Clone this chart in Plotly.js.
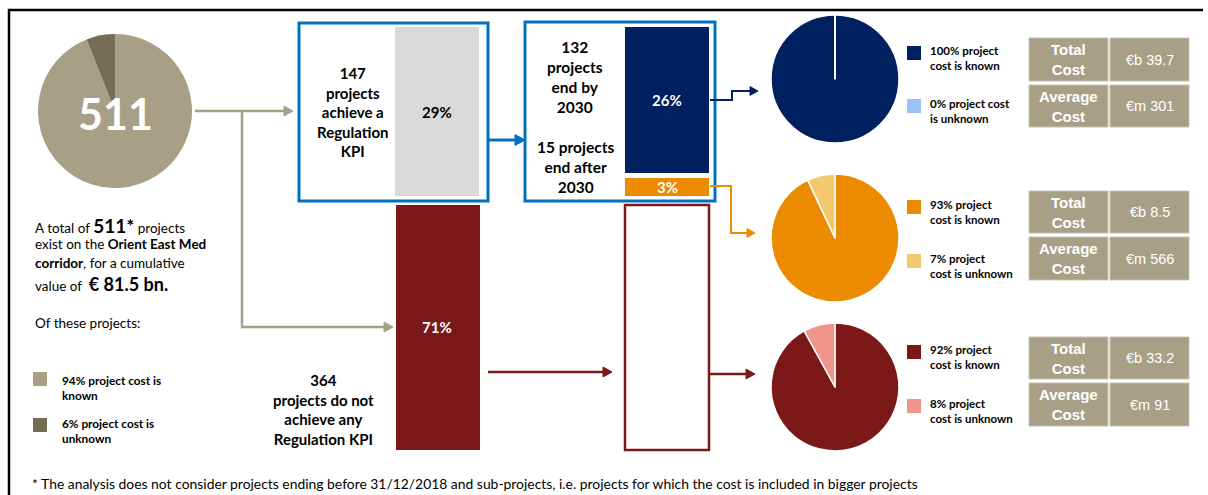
<!DOCTYPE html>
<html>
<head>
<meta charset="utf-8">
<script src="https://cdn.plot.ly/plotly-3.0.1.min.js"></script>
<style>html,body{margin:0;padding:0;background:#fff;}#chart{width:1208px;height:495px;}</style>
</head>
<body>
<div id="chart"></div>
<script>
// ---------------- DATA ----------------
const totalProjects = 511;
const totalValue = '€ 81.5 bn.';
const overallShareLabels = ['94% project cost is<br>known', '6% project cost is<br>unknown'];
const overallKnownUnknown = [94, 6];          // % known, % unknown (all 511 projects)
const kpiCounts = [147, 364];                  // achieve KPI, do not achieve
const kpiShares = [29, 71];                    // %
const endCounts = [132, 15];                   // end by 2030, end after 2030
const endShares = [26, 3];                     // %
const groupKnown = [100, 93, 92];              // % cost known per group
const groupUnknown = [0, 7, 8];                // % cost unknown per group
const groupTotalCost = ['€b 39.7', '€b 8.5', '€b 33.2'];
const groupAvgCost = ['€m 301', '€m 566', '€m 91'];
const footnote = '* The analysis does not consider projects ending before 31/12/2018 and sub-projects, i.e. projects for which the cost is included in bigger projects';

// ---------------- STYLE ----------------
const W = 1208, H = 495;
const TAN = '#A89F87', TAN_D = '#746C55';
const BLUE = '#0070C0', GRAY = '#D9D9D9', NAVY = '#002060', ORANGE = '#ED8B00';
const RED = '#7B1818';
const groupColors = [[NAVY, '#9EC1F8'], [ORANGE, '#F2C96F'], [RED, '#F0958B']];
const CAL = 'Lato, "Open Sans", sans-serif';
const ARI = '"Liberation Sans", Arial, sans-serif';

const shapes = [];
const ann = [];

function rect(x0, y0, x1, y1, fill, line, lw) {
  shapes.push({type: 'rect', xref: 'x', yref: 'y', x0, y0, x1, y1,
    fillcolor: fill || 'rgba(0,0,0,0)', line: {color: line || 'rgba(0,0,0,0)', width: lw || 0}, layer: 'below'});
}
function poly(pts, color, w) {
  const p = 'M ' + pts.map(q => q[0] + ',' + q[1]).join(' L ');
  shapes.push({type: 'path', xref: 'x', yref: 'y', path: p, line: {color, width: w}, layer: 'above'});
}
function head(x, y, color, s) {
  s = s || 9;
  const p = `M ${x - s},${y - s * 0.55} L ${x},${y} L ${x - s},${y + s * 0.55} Z`;
  shapes.push({type: 'path', xref: 'x', yref: 'y', path: p, fillcolor: color, line: {color, width: 1}, layer: 'above'});
}
function T(x, y, text, size, opts) {
  opts = opts || {};
  ann.push({xref: 'x', yref: 'y', x, y, text, showarrow: false,
    xanchor: opts.anchor || 'center', yanchor: 'middle', align: opts.align || 'center',
    font: {family: opts.family || CAL, size, color: opts.color || '#000'}});
}
function dom(cx, cy, r) {
  return {x: [(cx - r) / W, (cx + r) / W], y: [1 - (cy + r) / H, 1 - (cy - r) / H]};
}

// frame
poly([[9, 495], [9, 10], [1203, 10]], '#000', 2.5);

// ---------- main pie (known first clockwise from 12 o'clock, unknown ends at 12 o'clock) ----------
const traces = [];
traces.push({type: 'pie', values: [overallKnownUnknown[0], overallKnownUnknown[1]], sort: false,
  direction: 'clockwise', rotation: 0, textinfo: 'none', hoverinfo: 'none',
  marker: {colors: [TAN, TAN_D], line: {color: TAN, width: 0}}, domain: dom(115, 111, 77), showlegend: false});
T(115, 113, '<b>' + totalProjects + '</b>', 43, {color: '#fff'});

// connectors from main pie
poly([[195, 111], [286, 111]], TAN, 2.5); head(293, 111, TAN);
poly([[242, 111], [242, 327], [386, 327]], TAN, 2.5); head(393, 327, TAN);

// ---------- box 1: KPI achieved ----------
rect(299, 23, 488, 201, '#fff', BLUE, 3);
rect(395, 27, 479, 196, GRAY);
T(353, 112, '<b>' + kpiCounts[0] + '<br>projects<br>achieve a<br>Regulation<br>KPI</b>', 15);
T(437, 112, '<b>' + kpiShares[0] + '%</b>', 15);

// blue arrow
poly([[488, 140], [517, 140]], BLUE, 3); head(525, 140, BLUE, 10);

// ---------- box 2: end dates ----------
rect(525, 22, 715, 201, '#fff', BLUE, 3);
rect(625, 27, 709, 173, NAVY);
rect(625, 178, 709, 196, ORANGE);
T(575, 77, '<b>' + endCounts[0] + '<br>projects<br>end by<br>2030</b>', 15.5);
T(575, 167, '<b>' + endCounts[1] + ' projects<br>end after<br>2030</b>', 15.5);
T(667, 100, '<b>' + endShares[0] + '%</b>', 15, {color: '#fff'});
T(667, 187, '<b>' + endShares[1] + '%</b>', 15, {color: '#fff'});

// ---------- no KPI ----------
rect(396, 205, 480, 450, RED);
T(437, 327, '<b>' + kpiShares[1] + '%</b>', 15, {color: '#fff'});
T(323, 409, '<b>' + kpiCounts[1] + '<br>projects do not<br>achieve any<br>Regulation KPI</b>', 15);
poly([[488, 372], [604, 372]], RED, 2.5); head(612, 372, RED);
rect(625, 205, 709, 450, '#fff', RED, 2.5);
poly([[709, 374], [747, 374]], RED, 2.5); head(755, 374, RED);

// connectors to group pies
poly([[710, 100], [732, 100], [732, 91], [750, 91]], NAVY, 2); head(758, 91, NAVY, 8);
poly([[710, 186], [731, 186], [731, 233], [747, 233]], ORANGE, 2); head(755, 233, ORANGE, 8);

// ---------- group pies, legends, tables ----------
const pieCY = [79, 238, 387];
const legSq = [[46, 99], [200, 254], [345, 399]];
const rows = [[[38, 81], [85, 127]], [[191, 233], [237, 280]], [[337, 379], [383, 426]]];
for (let i = 0; i < 3; i++) {
  traces.push({type: 'pie', values: [groupKnown[i], groupUnknown[i]], sort: false,
    direction: 'clockwise', rotation: 0, textinfo: 'none', hoverinfo: 'none',
    marker: {colors: [groupColors[i][0], groupColors[i][1]], line: {color: '#fff', width: 1.5}},
    domain: dom(835, pieCY[i], 64), showlegend: false});
  // legend
  rect(907, legSq[i][0], 921, legSq[i][0] + 14, groupColors[i][0]);
  rect(907, legSq[i][1], 921, legSq[i][1] + 14, groupColors[i][1]);
  const kTxt = groupKnown[i] + '% project<br>cost is known';
  const uTxt = i === 0 ? groupUnknown[i] + '% project cost<br>is unknown' : groupUnknown[i] + '% project<br>cost is unknown';
  T(928, legSq[i][0] + 12, '<b>' + kTxt + '</b>', 11.5, {anchor: 'left', align: 'left'});
  T(928, legSq[i][1] + 12, '<b>' + uTxt + '</b>', 11.5, {anchor: 'left', align: 'left'});
  // table
  const r = rows[i];
  rect(1029, r[0][0], 1108, r[0][1], TAN, '#C9C2B0', 1);
  rect(1110, r[0][0], 1189, r[0][1], TAN, '#C9C2B0', 1);
  rect(1029, r[1][0], 1108, r[1][1], TAN, '#C9C2B0', 1);
  rect(1110, r[1][0], 1189, r[1][1], TAN, '#C9C2B0', 1);
  T(1068.5, (r[0][0] + r[0][1]) / 2, '<b>Total<br>Cost</b>', 15, {color: '#fff', family: ARI});
  T(1068.5, (r[1][0] + r[1][1]) / 2, '<b>Average<br>Cost</b>', 15, {color: '#fff', family: ARI});
  T(1149.5, (r[0][0] + r[0][1]) / 2, groupTotalCost[i], 14.5, {color: '#fff', family: ARI});
  T(1149.5, (r[1][0] + r[1][1]) / 2, groupAvgCost[i], 14.5, {color: '#fff', family: ARI});
}
// white radius line of the 0% slice
poly([[835, 79], [835, 15]], '#fff', 2);

// ---------- left text ----------
T(33, 225, 'A total of <b><span style="font-size:19px">' + totalProjects + '*</span></b> projects', 13.5, {anchor: 'left', align: 'left'});
T(33, 244, 'exist on the <b>Orient East Med</b>', 13.5, {anchor: 'left', align: 'left'});
T(33, 263, '<b>corridor</b>, for a cumulative', 13.5, {anchor: 'left', align: 'left'});
T(33, 284, 'value of  <b><span style="font-size:18px">' + totalValue + '</span></b>', 13.5, {anchor: 'left', align: 'left'});
T(33, 323, 'Of these projects:', 13.5, {anchor: 'left', align: 'left'});
rect(33, 372, 47, 386, TAN);
rect(33, 418, 47, 432, TAN_D);
T(60, 388, '<b>' + overallShareLabels[0] + '</b>', 11.8, {anchor: 'left', align: 'left'});
T(60, 431, '<b>' + overallShareLabels[1] + '</b>', 11.8, {anchor: 'left', align: 'left'});

// footnote
T(30, 483, footnote, 13.9, {anchor: 'left', align: 'left'});

const layout = {
  width: W, height: H, margin: {l: 0, r: 0, t: 0, b: 0},
  paper_bgcolor: '#fff', plot_bgcolor: 'rgba(0,0,0,0)',
  xaxis: {range: [0, W], visible: false, fixedrange: true},
  yaxis: {range: [H, 0], visible: false, fixedrange: true},
  shapes, annotations: ann, showlegend: false
};
// invisible scatter keeps cartesian axes alive for shapes
traces.unshift({type: 'scatter', x: [0], y: [0], mode: 'markers', marker: {opacity: 0}, hoverinfo: 'none', showlegend: false});
Plotly.newPlot('chart', traces, layout, {staticPlot: true, displayModeBar: false});
</script>
</body>
</html>
